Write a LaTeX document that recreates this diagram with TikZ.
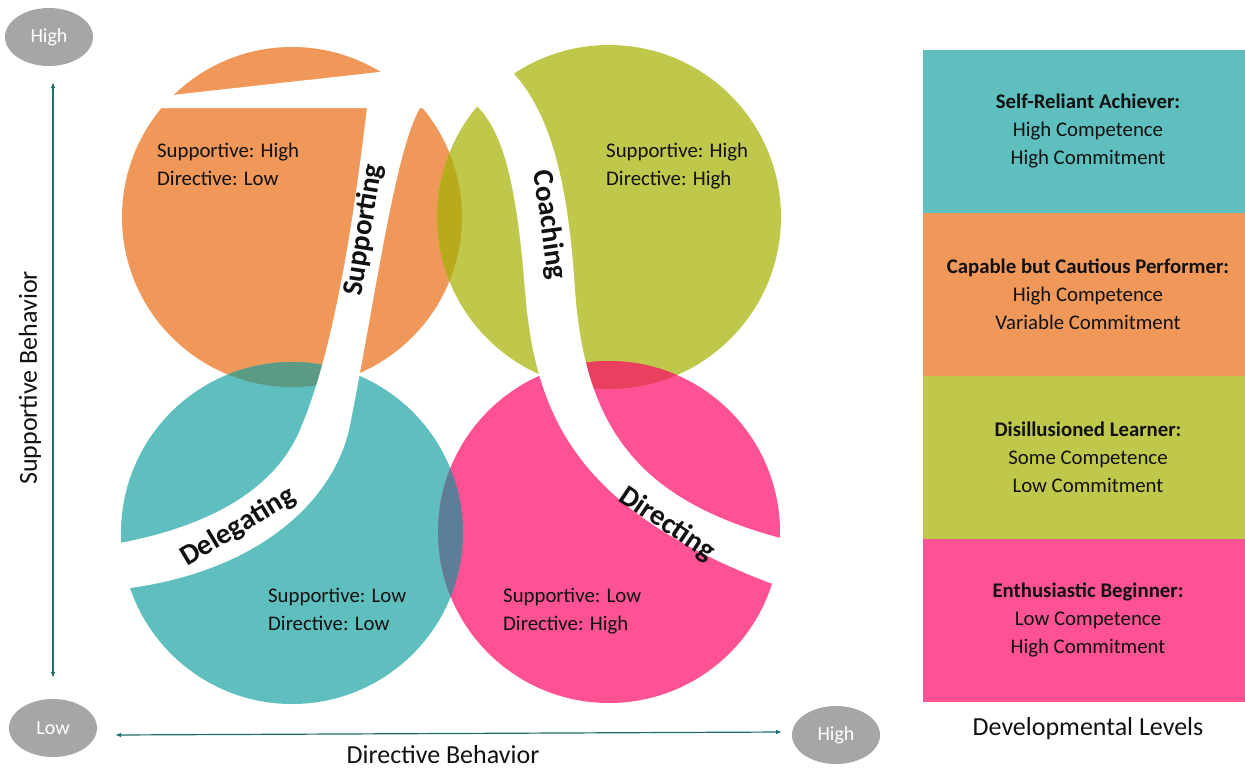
\documentclass[tikz,border=0pt]{standalone}
\usepackage{fontspec}
\setmainfont{Carlito}
\usetikzlibrary{arrows.meta,shapes.geometric}
\definecolor{corange}{HTML}{F0975A}
\definecolor{cgreen}{HTML}{BFC84B}
\definecolor{cteal}{HTML}{5FBFBE}
\definecolor{cpink}{HTML}{FF5294}
\definecolor{cog}{HTML}{B9A91C}
\definecolor{cot}{HTML}{5B9A85}
\definecolor{ctp}{HTML}{5E7E97}
\definecolor{cgp}{HTML}{E8405E}
\definecolor{cgray}{HTML}{A6A6A6}
\definecolor{carrow}{HTML}{1D6E6A}
\definecolor{ctext}{HTML}{111111}
\tikzset{
  circtext/.style={font=\fontsize{20.8}{28}\selectfont, align=left, inner sep=0pt, text=ctext, anchor=north west},
  bandlabel/.style={font=\fontsize{29}{32}\selectfont\bfseries, inner sep=0pt, text=ctext},
  axislabel/.style={font=\fontsize{26}{30}\selectfont, inner sep=0pt, text=ctext},
  axisend/.style={ellipse, fill=cgray, text=white, font=\fontsize{20}{24}\selectfont, minimum width=88pt, minimum height=58pt, inner sep=0pt},
  axisarrow/.style={draw=carrow, line width=1.2pt, {Latex[length=6pt,width=4.5pt]}-{Latex[length=6pt,width=4.5pt]}},
  levelbox/.style={minimum width=330pt, minimum height=163pt, inner sep=0pt, align=center, text=ctext, font=\fontsize{20.8}{28}\selectfont},
  whiteband/.style={fill=white}
}
\begin{document}
\begin{tikzpicture}[x=1pt,y=-1pt]
\useasboundingbox (0,0) rectangle (1245,769);
% circles
\fill[corange] (292,217) circle (170pt);
\fill[cgreen] (609,217) circle (172pt);
\fill[cteal] (292,533) circle (171pt);
\fill[cpink] (609,532) circle (171pt);
% overlaps
\begin{scope}\clip (292,217) circle (170pt); \fill[cog] (609,217) circle (172pt); \end{scope}
\begin{scope}\clip (292,217) circle (170pt); \fill[cot] (292,533) circle (171pt); \end{scope}
\begin{scope}\clip (292,533) circle (171pt); \fill[ctp] (609,532) circle (171pt); \end{scope}
\begin{scope}\clip (609,217) circle (172pt); \fill[cgp] (609,532) circle (171pt); \end{scope}
% white bands
\fill[whiteband] (110,101.9) -- (385,71.4) -- (470,62) -- (470,108) -- (110,108) -- cycle;
\fill[whiteband] (367,100) -- (367,108) .. controls (350,250) and (330,360) .. (300,430)
  .. controls (280,477) and (230,522) .. (120,543) -- (95,548) -- (95,592) -- (130,588)
  .. controls (260,570) and (335,500) .. (350,425) .. controls (375,300) and (395,150) .. (420,108)
  -- (425,100) -- cycle;
\fill[whiteband] (470,95) -- (478,107) .. controls (505,135) and (517,190) .. (525,290)
  .. controls (535,420) and (580,510) .. (770,583) -- (800,590) -- (800,542) -- (780,538)
  .. controls (640,500) and (585,430) .. (575,290) .. controls (568,180) and (550,115) .. (515,75)
  -- (500,60) -- cycle;
% circle texts
\node[circtext] (tSH) at (157,143) {Supportive: High\\Directive: Low};
\node[circtext] (tHH) at (606,143) {Supportive: High\\Directive: High};
\node[circtext] (tLL) at (268,588) {Supportive: Low\\Directive: Low};
\node[circtext] (tLH) at (503,588) {Supportive: Low\\Directive: High};
% band labels
\node[bandlabel, rotate=81] (lSup) at (364,230) {Supporting};
\node[bandlabel, rotate=-82] (lCoa) at (549,225) {Coaching};
\node[bandlabel, rotate=31] (lDel) at (238,527) {Delegating};
\node[bandlabel, rotate=-34] (lDir) at (667,524) {Directing};
% axes
\node[axisend] (hiS) at (49,37) {High};
\node[axisend] (loS) at (53,728) {Low};
\node[axisend] (hiD) at (836,735) {High};
\coordinate (vTop) at (53,82);
\coordinate (vBot) at (53,678);
\coordinate (hL) at (115,735);
\coordinate (hR) at (782,732);
\draw[axisarrow] (vBot) -- (vTop);
\draw[axisarrow] (hL) -- (hR);
\node[axislabel, rotate=90] (supB) at (30,378) {Supportive Behavior};
\node[axislabel] (dirB) at (443,755) {Directive Behavior};
% developmental levels
\node[levelbox, fill=cteal] (lv4) at (1088,131) {\textbf{Self-Reliant Achiever:}\\High Competence\\High Commitment};
\node[levelbox, fill=corange] (lv3) at (1088,294) {\textbf{Capable but Cautious Performer:}\\High Competence\\Variable Commitment};
\node[levelbox, fill=cgreen] (lv2) at (1088,457) {\textbf{Disillusioned Learner:}\\Some Competence\\Low Commitment};
\node[levelbox, fill=cpink] (lv1) at (1088,620) {\textbf{Enthusiastic Beginner:}\\Low Competence\\High Commitment};
\node[axislabel] (devL) at (1088,729) {Developmental Levels};
\end{tikzpicture}
\end{document}
